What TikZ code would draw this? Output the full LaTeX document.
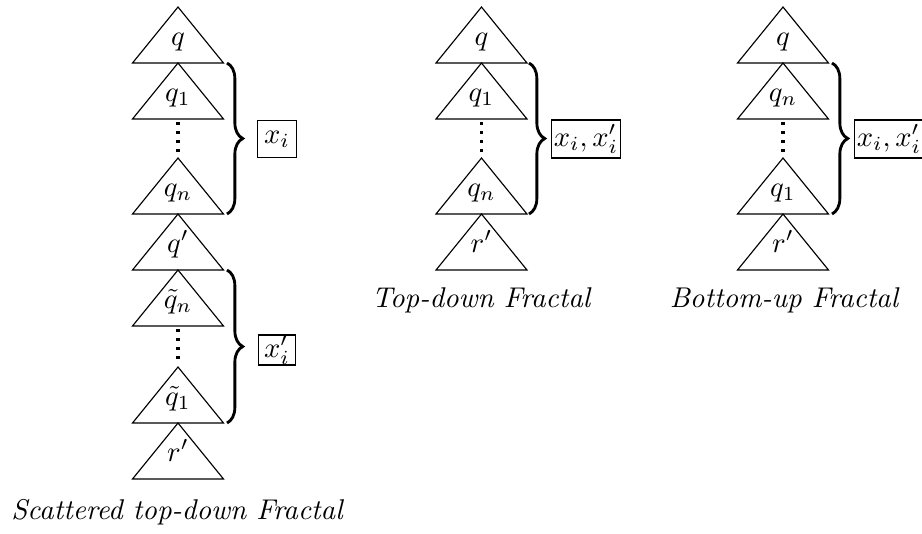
\documentclass[tikz,border=0pt]{standalone}
\usetikzlibrary{decorations.pathreplacing}
\tikzset{
  tri/.style={line width=0.4pt},
  lab/.style={anchor=base,inner sep=0pt},
  gapdots/.style={line width=1.15pt,dash pattern=on 1.15pt off 2pt,shorten <=1.1pt,shorten >=1.1pt},
  brc/.style={decorate,decoration={brace,amplitude=5.5pt},line width=1pt},
  lbox/.style={draw,line width=0.4pt,inner xsep=2.4pt,inner ysep=1pt,minimum height=13pt},
  xbox/.style={draw,line width=0.4pt,inner xsep=2pt,inner ysep=0.2pt,minimum height=10.5pt},
  wbox/.style={draw,line width=0.4pt,inner xsep=0.9pt,inner ysep=1pt,minimum height=13.3pt},
  captext/.style={font=\itshape,inner sep=0pt}
}
\newcommand\trian[4]{%
  \draw[tri] (#2,#3) coordinate (#1-top) -- ++(45.5,56) -- ++(-91,0) -- cycle;
  \coordinate (#1-bot) at (#2,{#3+56});
  \node[lab] (#1) at (#2,{#3+38}) {$#4$};}
\begin{document}
\begin{tikzpicture}[x=0.35pt,y=-0.35pt]
\useasboundingbox (0,0) rectangle (922,533);
% left column
\trian{a1}{178}{7}{q}
\trian{a2}{178}{63}{q_1}
\trian{a3}{178}{158}{q_n}
\trian{a4}{178}{214}{q'}
\trian{a5}{178}{270}{\tilde q_n}
\trian{a6}{178}{367}{\tilde q_1}
\trian{a7}{178}{423}{r'}
\draw[gapdots] (a2-bot) -- (a3-top);
\draw[gapdots] (a5-bot) -- (a6-top);
\coordinate (ba1) at (227,63); \coordinate (ba2) at (227,214);
\coordinate (bb1) at (227,270); \coordinate (bb2) at (227,423);
\draw[brc] (ba1) -- (ba2);
\draw[brc] (bb1) -- (bb2);
\node[lbox] (xa) at (277,139) {$x_i$};
\node[xbox] (xb) at (277,350) {$x'_i$};
\node[captext] (capa) at (177,512) {Scattered top-down Fractal};
% middle column
\trian{b1}{481.5}{7}{q}
\trian{b2}{481.5}{63}{q_1}
\trian{b3}{481.5}{158}{q_n}
\trian{b4}{481.5}{214}{r'}
\draw[gapdots] (b2-bot) -- (b3-top);
\coordinate (bc1) at (529,63); \coordinate (bc2) at (529,214);
\draw[brc] (bc1) -- (bc2);
\node[wbox] (xc) at (586,139) {$x_i, x'_i$};
\node[captext] (capb) at (481,300) {Top-down Fractal};
% right column
\trian{c1}{783}{7}{q}
\trian{c2}{783}{63}{q_n}
\trian{c3}{783}{158}{q_1}
\trian{c4}{783}{214}{r'}
\draw[gapdots] (c2-bot) -- (c3-top);
\coordinate (bd1) at (832,63); \coordinate (bd2) at (832,214);
\draw[brc] (bd1) -- (bd2);
\node[wbox] (xd) at (889,139) {$x_i, x'_i$};
\node[captext] (capc) at (784,300) {Bottom-up Fractal};
\end{tikzpicture}
\end{document}
